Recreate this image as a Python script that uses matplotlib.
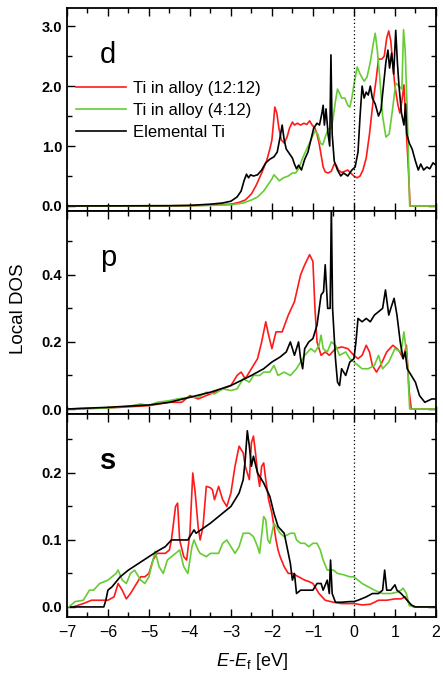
import numpy as np
import matplotlib
matplotlib.use("Agg")
import matplotlib.pyplot as plt
from matplotlib.ticker import MultipleLocator, FormatStrFormatter

plt.rcParams['font.family'] = ['Liberation Sans', 'DejaVu Sans']
plt.rcParams['mathtext.fontset'] = 'custom'
plt.rcParams['mathtext.rm'] = 'Liberation Sans'
plt.rcParams['mathtext.it'] = 'Liberation Sans:italic'

# --- datos: (E - Ef [eV], DOS local) ---
d_red = [(-7.0, 0), (-5.0, 0.0), (-4.0, 0.005), (-3.5, 0.015), (-3.0, 0.03), (-2.8, 0.06),
         (-2.65, 0.1), (-2.5, 0.2), (-2.38, 0.35), (-2.25, 0.55), (-2.13, 0.75), (-2.05, 0.95),
         (-2.0, 1.1), (-1.96, 1.4), (-1.93, 1.65), (-1.88, 1.55), (-1.83, 1.3), (-1.77, 1.1),
         (-1.7, 1.05), (-1.63, 1.15), (-1.57, 1.3), (-1.5, 1.4), (-1.45, 1.35), (-1.38, 1.38),
         (-1.3, 1.35), (-1.22, 1.38), (-1.15, 1.36), (-1.08, 1.42), (-1.02, 1.35), (-0.95, 1.3),
         (-0.9, 1.2), (-0.85, 1.05), (-0.8, 0.85), (-0.75, 0.65), (-0.7, 0.57), (-0.63, 0.55),
         (-0.55, 0.58), (-0.48, 0.7), (-0.43, 0.68), (-0.38, 0.6), (-0.3, 0.56), (-0.22, 0.58),
         (-0.15, 0.6), (-0.08, 0.55), (0.0, 0.5), (0.08, 0.47), (0.15, 0.5), (0.22, 0.6),
         (0.3, 0.8), (0.38, 1.2), (0.46, 1.7), (0.54, 2.1), (0.6, 2.45), (0.68, 2.45),
         (0.74, 2.5), (0.8, 2.8), (0.85, 2.92), (0.9, 2.75), (0.95, 2.35), (1.0, 2.0),
         (1.07, 1.7), (1.12, 1.55), (1.17, 1.75), (1.22, 2.02), (1.25, 1.6), (1.29, 1.1),
         (1.33, 0.6), (1.37, 0.0), (2.0, 0.0)]
d_green = [(-7, 0), (-4.0, 0.005), (-3.5, 0.01), (-3.0, 0.02), (-2.7, 0.05), (-2.5, 0.1),
           (-2.35, 0.15), (-2.2, 0.25), (-2.1, 0.35), (-2.0, 0.45), (-1.95, 0.52), (-1.88, 0.47),
           (-1.82, 0.42), (-1.72, 0.47), (-1.6, 0.5), (-1.5, 0.55), (-1.42, 0.55), (-1.35, 0.62),
           (-1.25, 0.8), (-1.15, 0.95), (-1.05, 1.1), (-0.95, 1.25), (-0.88, 1.2), (-0.82, 1.05),
           (-0.76, 1.02), (-0.7, 1.15), (-0.63, 1.28), (-0.55, 1.3), (-0.5, 1.5), (-0.45, 1.75),
           (-0.4, 1.95), (-0.35, 1.88), (-0.3, 1.8), (-0.22, 1.8), (-0.15, 1.68), (-0.1, 1.65),
           (-0.05, 1.8), (0.0, 2.02), (0.08, 2.32), (0.15, 2.2), (0.25, 2.08), (0.32, 2.15),
           (0.4, 2.4), (0.47, 2.7), (0.52, 2.88), (0.57, 2.6), (0.63, 2.15), (0.7, 1.5),
           (0.78, 1.15), (0.86, 1.2), (0.94, 1.6), (1.02, 2.05), (1.1, 2.0), (1.17, 1.95),
           (1.21, 2.94), (1.25, 2.6), (1.3, 1.6), (1.36, 0.0), (2.0, 0.0)]
d_black = [(-7, 0), (-4.5, 0.005), (-4.0, 0.01), (-3.5, 0.03), (-3.2, 0.05), (-3.0, 0.08),
           (-2.85, 0.15), (-2.75, 0.25), (-2.68, 0.42), (-2.62, 0.53), (-2.57, 0.47), (-2.52, 0.52),
           (-2.45, 0.5), (-2.35, 0.52), (-2.25, 0.6), (-2.15, 0.72), (-2.05, 0.78), (-1.95, 0.82),
           (-1.87, 0.9), (-1.8, 1.15), (-1.75, 1.35), (-1.7, 1.1), (-1.65, 0.95), (-1.58, 0.88),
           (-1.5, 0.8), (-1.45, 0.7), (-1.4, 0.62), (-1.35, 0.68), (-1.28, 0.6), (-1.2, 0.78),
           (-1.12, 0.9), (-1.05, 1.1), (-0.98, 1.3), (-0.9, 1.38), (-0.84, 1.35), (-0.78, 1.55),
           (-0.75, 1.68), (-0.72, 1.35), (-0.68, 1.62), (-0.63, 1.2), (-0.59, 1.0), (-0.56, 2.52),
           (-0.53, 1.2), (-0.48, 0.75), (-0.4, 0.6), (-0.32, 0.5), (-0.25, 0.55), (-0.15, 0.5),
           (-0.05, 0.6), (0.03, 0.65), (0.1, 0.9), (0.15, 1.5), (0.2, 2.0), (0.25, 1.8),
           (0.3, 1.9), (0.35, 1.85), (0.4, 2.0), (0.45, 1.8), (0.52, 1.7), (0.6, 1.5),
           (0.66, 1.6), (0.72, 2.0), (0.78, 2.4), (0.83, 2.6), (0.87, 2.3), (0.92, 2.55),
           (0.97, 2.2), (1.02, 2.93), (1.06, 2.4), (1.1, 2.0), (1.16, 1.55), (1.22, 1.35),
           (1.26, 1.7), (1.29, 1.2), (1.35, 1.05), (1.42, 0.95), (1.5, 0.75), (1.57, 0.6),
           (1.63, 0.7), (1.7, 0.6), (1.78, 0.65), (1.85, 0.62), (1.93, 0.72), (2.0, 0.68)]

p_red = [(-7, 0), (-6.0, 0.003), (-5.0, 0.01), (-4.5, 0.02), (-4.2, 0.02), (-4.0, 0.04),
         (-3.8, 0.03), (-3.5, 0.045), (-3.2, 0.06), (-3.0, 0.07), (-2.85, 0.1), (-2.75, 0.11),
         (-2.65, 0.09), (-2.5, 0.12), (-2.35, 0.15), (-2.25, 0.2), (-2.15, 0.26), (-2.08, 0.22),
         (-2.0, 0.18), (-1.9, 0.23), (-1.75, 0.23), (-1.6, 0.28), (-1.45, 0.32), (-1.3, 0.4),
         (-1.2, 0.43), (-1.08, 0.46), (-1.0, 0.44), (-0.95, 0.3), (-0.9, 0.2), (-0.8, 0.16),
         (-0.7, 0.17), (-0.6, 0.16), (-0.45, 0.18), (-0.3, 0.185), (-0.15, 0.18), (0.0, 0.16),
         (0.1, 0.15), (0.2, 0.16), (0.3, 0.19), (0.38, 0.17), (0.45, 0.13), (0.55, 0.11),
         (0.65, 0.13), (0.8, 0.17), (0.95, 0.19), (1.05, 0.18), (1.12, 0.17), (1.2, 0.15),
         (1.28, 0.19), (1.35, 0.05), (1.4, 0.0), (2.0, 0.0)]
p_green = [(-7, 0), (-6.0, 0.003), (-5.5, 0.008), (-5.2, 0.015), (-5.0, 0.01), (-4.8, 0.02),
           (-4.5, 0.025), (-4.3, 0.03), (-4.0, 0.035), (-3.8, 0.035), (-3.6, 0.05), (-3.4, 0.045),
           (-3.2, 0.06), (-3.0, 0.055), (-2.85, 0.06), (-2.7, 0.09), (-2.55, 0.08), (-2.45, 0.1),
           (-2.3, 0.1), (-2.2, 0.11), (-2.05, 0.11), (-1.95, 0.13), (-1.85, 0.1), (-1.7, 0.11),
           (-1.55, 0.1), (-1.4, 0.12), (-1.2, 0.16), (-1.05, 0.18), (-0.95, 0.17), (-0.85, 0.19),
           (-0.8, 0.22), (-0.75, 0.18), (-0.65, 0.17), (-0.55, 0.2), (-0.45, 0.19), (-0.35, 0.16),
           (-0.2, 0.17), (-0.1, 0.15), (0.0, 0.14), (0.1, 0.13), (0.2, 0.12), (0.35, 0.12),
           (0.5, 0.13), (0.6, 0.16), (0.7, 0.12), (0.85, 0.14), (1.0, 0.18), (1.15, 0.17),
           (1.22, 0.23), (1.3, 0.15), (1.36, 0.0), (2.0, 0.0)]
p_black = [(-7, 0), (-6.0, 0.005), (-5.0, 0.012), (-4.5, 0.02), (-4.0, 0.035), (-3.5, 0.05),
           (-3.0, 0.07), (-2.5, 0.1), (-2.2, 0.12), (-2.0, 0.14), (-1.8, 0.155), (-1.65, 0.17),
           (-1.55, 0.2), (-1.5, 0.18), (-1.45, 0.16), (-1.35, 0.2), (-1.3, 0.15), (-1.25, 0.12),
           (-1.2, 0.18), (-1.1, 0.2), (-1.0, 0.21), (-0.9, 0.25), (-0.8, 0.34), (-0.74, 0.35),
           (-0.7, 0.43), (-0.64, 0.3), (-0.58, 0.3), (-0.55, 0.6), (-0.52, 0.3), (-0.45, 0.15),
           (-0.4, 0.08), (-0.35, 0.07), (-0.3, 0.12), (-0.2, 0.1), (-0.1, 0.14), (0.0, 0.15),
           (0.05, 0.2), (0.1, 0.27), (0.2, 0.26), (0.3, 0.27), (0.4, 0.26), (0.5, 0.28),
           (0.6, 0.29), (0.7, 0.3), (0.77, 0.355), (0.85, 0.28), (0.9, 0.3), (0.98, 0.33),
           (1.05, 0.28), (1.13, 0.2), (1.2, 0.15), (1.25, 0.17), (1.3, 0.12), (1.4, 0.1),
           (1.5, 0.08), (1.6, 0.04), (1.73, 0.02), (1.9, 0.03), (2.0, 0.03)]

s_red = [(-6.85, 0.0), (-6.6, 0.005), (-6.4, 0.01), (-6.2, 0.01), (-6.0, 0.01), (-5.85, 0.015),
         (-5.75, 0.035), (-5.65, 0.025), (-5.55, 0.012), (-5.45, 0.02), (-5.3, 0.035), (-5.2, 0.045),
         (-5.1, 0.045), (-5.0, 0.05), (-4.9, 0.07), (-4.8, 0.08), (-4.6, 0.08), (-4.5, 0.085),
         (-4.45, 0.1), (-4.35, 0.15), (-4.3, 0.155), (-4.25, 0.1), (-4.15, 0.075), (-4.08, 0.07),
         (-4.0, 0.11), (-3.93, 0.2), (-3.87, 0.17), (-3.8, 0.12), (-3.75, 0.1), (-3.68, 0.12),
         (-3.6, 0.18), (-3.5, 0.178), (-3.45, 0.175), (-3.4, 0.16), (-3.3, 0.18), (-3.2, 0.16),
         (-3.1, 0.15), (-3.0, 0.17), (-2.9, 0.21), (-2.8, 0.24), (-2.75, 0.235), (-2.7, 0.23),
         (-2.65, 0.21), (-2.55, 0.19), (-2.5, 0.245), (-2.45, 0.255), (-2.4, 0.23), (-2.35, 0.2),
         (-2.3, 0.18), (-2.25, 0.21), (-2.2, 0.215), (-2.15, 0.19), (-2.08, 0.16), (-2.0, 0.14),
         (-1.95, 0.12), (-1.9, 0.1), (-1.85, 0.085), (-1.8, 0.075), (-1.7, 0.06), (-1.6, 0.05),
         (-1.5, 0.05), (-1.35, 0.045), (-1.2, 0.04), (-1.1, 0.038), (-1.0, 0.035), (-0.85, 0.02),
         (-0.7, 0.01), (-0.5, 0.007), (-0.3, 0.005), (0.0, 0.005), (0.2, 0.003), (0.4, 0.004),
         (0.6, 0.01), (0.8, 0.01), (1.0, 0.012), (1.15, 0.012), (1.25, 0.015), (1.35, 0.005),
         (1.45, 0.0), (2.0, 0.0)]
s_green = [(-6.95, 0.0), (-6.8, 0.008), (-6.6, 0.01), (-6.5, 0.02), (-6.45, 0.025), (-6.35, 0.025),
           (-6.2, 0.035), (-6.0, 0.04), (-5.8, 0.05), (-5.75, 0.055), (-5.65, 0.04), (-5.55, 0.035),
           (-5.45, 0.05), (-5.35, 0.055), (-5.2, 0.04), (-5.1, 0.035), (-5.0, 0.045), (-4.9, 0.07),
           (-4.85, 0.083), (-4.75, 0.06), (-4.65, 0.05), (-4.55, 0.07), (-4.45, 0.075), (-4.35, 0.08),
           (-4.25, 0.085), (-4.15, 0.06), (-4.05, 0.05), (-3.95, 0.09), (-3.9, 0.1), (-3.8, 0.085),
           (-3.75, 0.08), (-3.6, 0.075), (-3.5, 0.08), (-3.4, 0.08), (-3.3, 0.08), (-3.2, 0.095),
           (-3.1, 0.1), (-3.0, 0.09), (-2.9, 0.08), (-2.8, 0.09), (-2.7, 0.11), (-2.55, 0.11),
           (-2.45, 0.105), (-2.35, 0.09), (-2.3, 0.08), (-2.2, 0.135), (-2.15, 0.13), (-2.1, 0.1),
           (-2.05, 0.095), (-1.95, 0.125), (-1.9, 0.12), (-1.8, 0.11), (-1.7, 0.105), (-1.55, 0.11),
           (-1.45, 0.11), (-1.4, 0.1), (-1.3, 0.095), (-1.2, 0.095), (-1.1, 0.09), (-1.0, 0.095),
           (-0.9, 0.095), (-0.82, 0.085), (-0.75, 0.07), (-0.65, 0.055), (-0.5, 0.055), (-0.4, 0.05),
           (-0.25, 0.048), (-0.1, 0.045), (0.0, 0.045), (0.1, 0.04), (0.2, 0.035), (0.35, 0.03),
           (0.5, 0.025), (0.7, 0.02), (0.9, 0.02), (1.05, 0.022), (1.15, 0.025), (1.2, 0.028),
           (1.28, 0.02), (1.35, 0.002), (1.5, 0.0), (2.0, 0.0)]
s_black = [(-6.9, 0.0), (-6.1, 0.0), (-6.05, 0.01), (-6.0, 0.025), (-5.9, 0.03), (-5.7, 0.045),
           (-5.5, 0.055), (-5.0, 0.075), (-4.8, 0.083), (-4.6, 0.09), (-4.45, 0.1), (-4.2, 0.1),
           (-4.05, 0.1), (-3.95, 0.11), (-3.9, 0.115), (-3.85, 0.11), (-3.5, 0.125), (-3.0, 0.15),
           (-2.8, 0.17), (-2.7, 0.19), (-2.65, 0.22), (-2.6, 0.263), (-2.55, 0.24), (-2.5, 0.21),
           (-2.45, 0.225), (-2.35, 0.2), (-2.2, 0.185), (-2.05, 0.165), (-1.95, 0.14), (-1.85, 0.12),
           (-1.7, 0.11), (-1.6, 0.08), (-1.55, 0.065), (-1.5, 0.04), (-1.45, 0.05), (-1.4, 0.02),
           (-1.3, 0.025), (-1.2, 0.025), (-1.0, 0.025), (-0.9, 0.035), (-0.8, 0.035), (-0.75, 0.025),
           (-0.65, 0.04), (-0.6, 0.02), (-0.57, 0.07), (-0.53, 0.02), (-0.45, 0.007), (-0.3, 0.007),
           (-0.1, 0.008), (0.0, 0.008), (0.1, 0.01), (0.3, 0.015), (0.45, 0.02), (0.6, 0.02),
           (0.7, 0.025), (0.75, 0.055), (0.8, 0.025), (0.9, 0.025), (1.0, 0.033), (1.05, 0.025),
           (1.15, 0.02), (1.3, 0.01), (1.4, 0.003), (1.5, 0.0), (2.0, 0.0)]

etiquetas = ["Ti in alloy (12:12)", "Ti in alloy (4:12)", "Elemental Ti"]
colores = ["#ff1a1a", "#66cc33", "black"]
paneles = [("d", [d_red, d_green, d_black], (-0.085, 3.3), 1.0, 0.5),
           ("p", [p_red, p_green, p_black], (-0.015, 0.59), 0.2, 0.1),
           ("s", [s_red, s_green, s_black], (-0.015, 0.288), 0.1, 0.05)]

fig, axes = plt.subplots(3, 1, sharex=True, figsize=(4.43, 6.78), dpi=100)
fig.subplots_adjust(left=0.151, right=0.984, top=0.988, bottom=0.09, hspace=0)

for ax, (letra, series, ylim, mayor, menor) in zip(axes, paneles):
    for datos, c, lab in zip(series, colores, etiquetas):
        e, v = zip(*datos)
        ax.plot(e, v, color=c, lw=1.2, label=lab)
    ax.axvline(0, color="black", ls=(0, (1, 2)), lw=0.9)
    ax.set_xlim(-7, 2)
    ax.set_ylim(*ylim)
    ax.yaxis.set_major_locator(MultipleLocator(mayor))
    ax.yaxis.set_minor_locator(MultipleLocator(menor))
    ax.yaxis.set_major_formatter(FormatStrFormatter("%.1f"))
    ax.xaxis.set_major_locator(MultipleLocator(1))
    ax.xaxis.set_minor_locator(MultipleLocator(0.5))
    ax.tick_params(which="both", direction="in", top=True, right=True, width=1.0)
    ax.tick_params(which="major", length=6)
    ax.tick_params(which="minor", length=3.5)
    ax.tick_params(axis="y", labelsize=10.5)
    for t in ax.get_yticklabels():
        t.set_fontweight("bold")
    for s in ax.spines.values():
        s.set_linewidth(1.3)
    ax.text(0.09, 0.73, letra, transform=ax.transAxes, fontsize=21,
            fontweight="bold" if letra == "s" else "normal", va="baseline")

axes[0].legend(loc="upper left", bbox_to_anchor=(0.025, 0.64), frameon=False,
               fontsize=12, handlelength=3.0, handletextpad=0.4, labelspacing=0.4,
               borderpad=0, borderaxespad=0)
axes[2].tick_params(axis="x", labelsize=11.5, pad=6)
axes[2].set_xlabel(r"$E$-$E_{\mathrm{f}}$ [eV]", fontsize=13, labelpad=8)
fig.text(0.042, 0.545, "Local DOS", rotation=90, fontsize=13.5, ha="center", va="center")

plt.savefig("out.png", dpi=100)
